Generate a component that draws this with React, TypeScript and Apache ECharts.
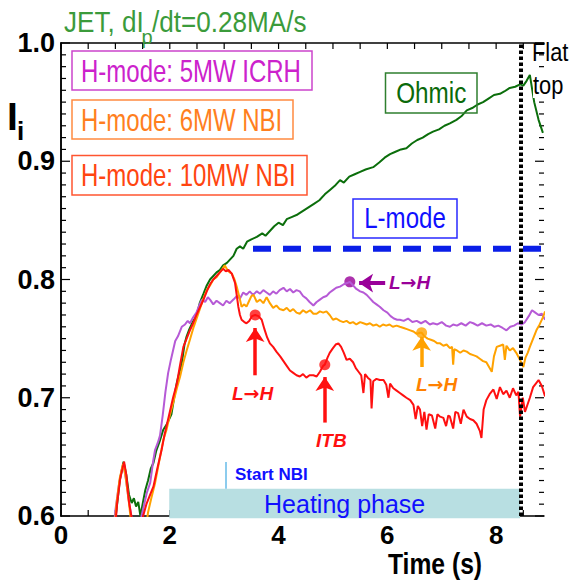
import React, { useEffect, useRef } from "react";
import * as echarts from "echarts";

const FONT = "'Liberation Sans', Arial, sans-serif";

// x tick positions and labels
const xTickValues = [0, 0.5, 1, 1.5, 2, 2.5, 3, 3.5, 4, 4.5, 5, 5.5, 6, 6.5, 7, 7.5, 8, 8.5];
const xLabelValues = [0, 2, 4, 6, 8];
// y tick positions (every 0.01)
const yTickValues = [
  0.6, 0.61, 0.62, 0.63, 0.64, 0.65, 0.66, 0.67, 0.68, 0.69,
  0.7, 0.71, 0.72, 0.73, 0.74, 0.75, 0.76, 0.77, 0.78, 0.79,
  0.8, 0.81, 0.82, 0.83, 0.84, 0.85, 0.86, 0.87, 0.88, 0.89,
  0.9, 0.91, 0.92, 0.93, 0.94, 0.95, 0.96, 0.97, 0.98, 0.99, 1.0,
];

// Ohmic (green)
const ohmic: [number, number][] = [
  [0.95, 0.58], [1.02, 0.605], [1.08, 0.63], [1.15, 0.646], [1.2, 0.635], [1.25, 0.618], [1.3, 0.611],
  [1.34, 0.615], [1.38, 0.608], [1.42, 0.612], [1.46, 0.6], [1.5, 0.61], [1.55, 0.622], [1.6, 0.63],
  [1.65, 0.64], [1.7, 0.645], [1.75, 0.655], [1.82, 0.664], [1.88, 0.673], [1.95, 0.678], [2.03, 0.686],
  [2.08, 0.7], [2.13, 0.713], [2.18, 0.722], [2.22, 0.729], [2.27, 0.745], [2.31, 0.752], [2.36, 0.758],
  [2.42, 0.764], [2.49, 0.769], [2.55, 0.78], [2.62, 0.788], [2.68, 0.795], [2.74, 0.8], [2.8, 0.803],
  [2.86, 0.806], [2.92, 0.808], [2.98, 0.812], [3.05, 0.814], [3.11, 0.817], [3.17, 0.82], [3.23, 0.826],
  [3.29, 0.828], [3.35, 0.826], [3.42, 0.832], [3.5, 0.834], [3.6, 0.836], [3.7, 0.839], [3.76, 0.837],
  [3.84, 0.841], [3.92, 0.845], [4.0, 0.848], [4.08, 0.846], [4.15, 0.851], [4.25, 0.853], [4.35, 0.855],
  [4.45, 0.858], [4.55, 0.861], [4.65, 0.864], [4.75, 0.867], [4.85, 0.872], [4.95, 0.876], [5.05, 0.88],
  [5.13, 0.884], [5.2, 0.882], [5.3, 0.887], [5.4, 0.889], [5.5, 0.891], [5.6, 0.893], [5.74, 0.895],
  [5.85, 0.899], [5.95, 0.903], [6.05, 0.906], [6.15, 0.908], [6.25, 0.91], [6.35, 0.911], [6.45, 0.915],
  [6.55, 0.918], [6.65, 0.92], [6.75, 0.923], [6.84, 0.925], [6.95, 0.927], [7.05, 0.93], [7.15, 0.932],
  [7.27, 0.935], [7.36, 0.938], [7.46, 0.943], [7.56, 0.945], [7.66, 0.948], [7.76, 0.95], [7.86, 0.953],
  [7.96, 0.956], [8.07, 0.957], [8.15, 0.959], [8.25, 0.962], [8.35, 0.963], [8.44, 0.965], [8.5, 0.964],
  [8.56, 0.968], [8.62, 0.973], [8.7, 0.95], [8.78, 0.935], [8.86, 0.924],
];

// H-mode 5MW ICRH (purple)
const icrh: [number, number][] = [
  [0.95, 0.58], [1.0, 0.605], [1.06, 0.625], [1.12, 0.64], [1.15, 0.643], [1.19, 0.632], [1.24, 0.615],
  [1.3, 0.598], [1.35, 0.585], [1.45, 0.585], [1.48, 0.6], [1.53, 0.61], [1.58, 0.62], [1.64, 0.628],
  [1.69, 0.645], [1.73, 0.656], [1.78, 0.662], [1.82, 0.668], [1.87, 0.685], [1.92, 0.705], [1.97, 0.721],
  [2.02, 0.732], [2.06, 0.74], [2.1, 0.748], [2.15, 0.752], [2.22, 0.76], [2.28, 0.762], [2.33, 0.765],
  [2.37, 0.763], [2.43, 0.768], [2.49, 0.772], [2.54, 0.778], [2.59, 0.783], [2.65, 0.781], [2.7, 0.785],
  [2.74, 0.783], [2.8, 0.779], [2.86, 0.782], [2.92, 0.78], [2.98, 0.778], [3.04, 0.782], [3.1, 0.78],
  [3.17, 0.783], [3.23, 0.786], [3.29, 0.784], [3.35, 0.789], [3.41, 0.787], [3.47, 0.79], [3.53, 0.787],
  [3.6, 0.79], [3.66, 0.788], [3.72, 0.791], [3.78, 0.789], [3.84, 0.787], [3.9, 0.79], [3.96, 0.788],
  [4.02, 0.791], [4.09, 0.793], [4.15, 0.79], [4.21, 0.792], [4.27, 0.789], [4.33, 0.791], [4.39, 0.79],
  [4.45, 0.786], [4.51, 0.784], [4.57, 0.781], [4.64, 0.778], [4.7, 0.781], [4.76, 0.783], [4.82, 0.785],
  [4.88, 0.786], [4.94, 0.789], [5.0, 0.791], [5.06, 0.793], [5.13, 0.794], [5.2, 0.796], [5.26, 0.797],
  [5.31, 0.798], [5.37, 0.795], [5.43, 0.792], [5.5, 0.79], [5.56, 0.789], [5.62, 0.787], [5.68, 0.784],
  [5.74, 0.781], [5.8, 0.779], [5.86, 0.777], [5.93, 0.774], [6.0, 0.772], [6.06, 0.769], [6.12, 0.767],
  [6.18, 0.766], [6.23, 0.766], [6.3, 0.765], [6.38, 0.767], [6.46, 0.764], [6.54, 0.765], [6.62, 0.763],
  [6.7, 0.765], [6.78, 0.762], [6.84, 0.763], [6.92, 0.762], [7.0, 0.764], [7.08, 0.761], [7.15, 0.76],
  [7.21, 0.762], [7.28, 0.761], [7.36, 0.763], [7.44, 0.761], [7.52, 0.764], [7.58, 0.763], [7.66, 0.761],
  [7.74, 0.763], [7.82, 0.761], [7.9, 0.762], [7.97, 0.76], [8.04, 0.761], [8.12, 0.759], [8.19, 0.757],
  [8.26, 0.76], [8.33, 0.761], [8.4, 0.763], [8.47, 0.762], [8.53, 0.764], [8.6, 0.769], [8.66, 0.774],
  [8.72, 0.772], [8.78, 0.77], [8.84, 0.771], [8.9, 0.766],
];

// H-mode 6MW NBI (orange)
const nbi6: [number, number][] = [
  [0.97, 0.58], [1.02, 0.61], [1.08, 0.632], [1.14, 0.644], [1.18, 0.636], [1.24, 0.615], [1.3, 0.59],
  [1.4, 0.58], [1.55, 0.585], [1.6, 0.603], [1.66, 0.615], [1.73, 0.628], [1.8, 0.645], [1.88, 0.664],
  [1.94, 0.673], [2.0, 0.685], [2.07, 0.697], [2.13, 0.708], [2.19, 0.718], [2.25, 0.73], [2.31, 0.74],
  [2.37, 0.749], [2.44, 0.76], [2.5, 0.768], [2.56, 0.776], [2.62, 0.784], [2.68, 0.791], [2.74, 0.795],
  [2.8, 0.8], [2.86, 0.802], [2.92, 0.806], [2.97, 0.809], [3.01, 0.812], [3.06, 0.808], [3.1, 0.806],
  [3.14, 0.805], [3.19, 0.8], [3.23, 0.794], [3.28, 0.785], [3.32, 0.777], [3.37, 0.779], [3.41, 0.777],
  [3.46, 0.782], [3.5, 0.786], [3.54, 0.787], [3.6, 0.781], [3.66, 0.783], [3.72, 0.78], [3.78, 0.785],
  [3.84, 0.78], [3.9, 0.776], [3.96, 0.778], [4.02, 0.775], [4.09, 0.774], [4.15, 0.776], [4.21, 0.773],
  [4.27, 0.775], [4.33, 0.772], [4.39, 0.771], [4.45, 0.774], [4.51, 0.772], [4.58, 0.774], [4.64, 0.771],
  [4.7, 0.771], [4.76, 0.773], [4.82, 0.772], [4.88, 0.773], [4.94, 0.77], [5.0, 0.766], [5.06, 0.767],
  [5.13, 0.765], [5.19, 0.764], [5.25, 0.765], [5.31, 0.763], [5.37, 0.764], [5.43, 0.762], [5.5, 0.764],
  [5.56, 0.763], [5.62, 0.762], [5.68, 0.763], [5.74, 0.761], [5.8, 0.762], [5.86, 0.76], [5.92, 0.762],
  [5.98, 0.761], [6.04, 0.762], [6.1, 0.76], [6.17, 0.761], [6.23, 0.76], [6.3, 0.759], [6.36, 0.758],
  [6.42, 0.757], [6.48, 0.756], [6.54, 0.754], [6.6, 0.755], [6.63, 0.755], [6.68, 0.752], [6.74, 0.75],
  [6.8, 0.749], [6.86, 0.748], [6.92, 0.746], [6.97, 0.746], [7.03, 0.744], [7.09, 0.745], [7.15, 0.742],
  [7.19, 0.743], [7.21, 0.728], [7.23, 0.741], [7.28, 0.74], [7.34, 0.738], [7.4, 0.74], [7.46, 0.739],
  [7.52, 0.737], [7.58, 0.736], [7.64, 0.735], [7.7, 0.733], [7.76, 0.731], [7.82, 0.73], [7.87, 0.726],
  [7.92, 0.722], [7.96, 0.735], [8.01, 0.743], [8.07, 0.744], [8.13, 0.745], [8.16, 0.732], [8.19, 0.744],
  [8.25, 0.74], [8.31, 0.742], [8.37, 0.738], [8.44, 0.732], [8.5, 0.726], [8.54, 0.734], [8.58, 0.738],
  [8.62, 0.743], [8.68, 0.75], [8.74, 0.757], [8.8, 0.762], [8.86, 0.768], [8.9, 0.773],
];

// H-mode 10MW NBI (red)
const nbi10: [number, number][] = [
  [0.98, 0.58], [1.03, 0.61], [1.09, 0.632], [1.16, 0.646], [1.2, 0.635], [1.25, 0.612], [1.3, 0.598],
  [1.35, 0.585], [1.48, 0.585], [1.51, 0.6], [1.57, 0.61], [1.63, 0.617], [1.7, 0.625], [1.77, 0.64],
  [1.85, 0.656], [1.9, 0.668], [1.94, 0.676], [2.0, 0.688], [2.06, 0.7], [2.13, 0.712], [2.19, 0.728],
  [2.25, 0.743], [2.31, 0.75], [2.37, 0.757], [2.43, 0.763], [2.49, 0.77], [2.55, 0.776], [2.62, 0.783],
  [2.68, 0.79], [2.74, 0.796], [2.8, 0.8], [2.86, 0.803], [2.92, 0.806], [2.98, 0.809], [3.03, 0.807],
  [3.08, 0.808], [3.14, 0.805], [3.2, 0.797], [3.23, 0.787], [3.26, 0.777], [3.29, 0.77], [3.32, 0.766],
  [3.37, 0.764], [3.41, 0.763], [3.46, 0.765], [3.51, 0.769], [3.57, 0.77], [3.63, 0.769], [3.69, 0.766],
  [3.74, 0.758], [3.79, 0.751], [3.84, 0.746], [3.9, 0.743], [3.96, 0.739], [4.03, 0.735], [4.09, 0.731],
  [4.15, 0.727], [4.21, 0.723], [4.27, 0.721], [4.33, 0.719], [4.39, 0.718], [4.45, 0.72], [4.51, 0.717],
  [4.57, 0.719], [4.64, 0.719], [4.7, 0.718], [4.76, 0.722], [4.82, 0.727], [4.85, 0.728], [4.9, 0.734],
  [4.94, 0.738], [5.0, 0.742], [5.05, 0.745], [5.1, 0.746], [5.15, 0.743], [5.2, 0.738], [5.25, 0.732],
  [5.31, 0.733], [5.37, 0.73], [5.42, 0.725], [5.47, 0.722], [5.52, 0.719], [5.56, 0.704], [5.59, 0.72],
  [5.64, 0.717], [5.69, 0.715], [5.71, 0.691], [5.74, 0.714], [5.8, 0.716], [5.86, 0.715], [5.93, 0.715],
  [5.98, 0.711], [6.02, 0.7], [6.05, 0.712], [6.11, 0.708], [6.17, 0.706], [6.23, 0.704], [6.29, 0.702],
  [6.35, 0.7], [6.42, 0.698], [6.48, 0.694], [6.52, 0.682], [6.56, 0.693], [6.6, 0.69], [6.64, 0.676],
  [6.68, 0.688], [6.72, 0.673], [6.76, 0.686], [6.82, 0.685], [6.88, 0.674], [6.92, 0.686], [6.97, 0.684],
  [7.03, 0.683], [7.08, 0.676], [7.12, 0.685], [7.15, 0.684], [7.21, 0.674], [7.25, 0.688], [7.3, 0.687],
  [7.35, 0.678], [7.4, 0.69], [7.46, 0.684], [7.52, 0.682], [7.58, 0.681], [7.64, 0.678], [7.7, 0.672],
  [7.73, 0.666], [7.77, 0.69], [7.82, 0.698], [7.88, 0.703], [7.95, 0.707], [8.01, 0.699], [8.07, 0.709],
  [8.13, 0.703], [8.19, 0.706], [8.25, 0.7], [8.31, 0.708], [8.37, 0.702], [8.41, 0.705], [8.44, 0.684],
  [8.49, 0.7], [8.53, 0.688], [8.56, 0.692], [8.62, 0.7], [8.68, 0.709], [8.73, 0.712], [8.78, 0.715],
  [8.84, 0.71], [8.9, 0.701],
];

// L-mode level (blue dashed)
const lModeLevel: [number, number][] = [[3.53, 0.826], [8.88, 0.826]];

// Transition markers
const redMarkers: [number, number][] = [[3.57, 0.77], [4.85, 0.728]];
const purpleMarkers: [number, number][] = [[5.31, 0.798]];
const orangeMarkers: [number, number][] = [[6.63, 0.755]];

// Arrows: [x1, y1, x2, y2] (head at x2, y2)
const redArrows: [number, number, number, number][] = [
  [3.57, 0.719, 3.57, 0.759],
  [4.85, 0.679, 4.85, 0.7175],
];
const orangeArrows: [number, number, number, number][] = [[6.63, 0.726, 6.63, 0.7516]];
const purpleArrows: [number, number, number, number][] = [[5.96, 0.797, 5.48, 0.797]];

const flatTopTime = 8.46;
const startNBI: [number, number, number, number] = [3.03, 0.6457, 3.03, 0.623];
// heating phase: [start, end, bottom, top]
const heatingPhase: [number, number, number, number][] = [[1.99, 8.44, 0.598, 0.623]];

const X_MIN = 0;
const X_MAX = 8.88;
const Y_MIN = 0.6;
const Y_MAX = 1.0;

function arrowLines(arr: [number, number, number, number][]) {
  return arr.map((a) => [{ coord: [a[0], a[1]] }, { coord: [a[2], a[3]] }]);
}

function txt(
  text: string,
  x: number,
  y: number,
  size: number,
  color: string,
  extra: any = {}
) {
  const { scaleX, align, weight, italic, bg, rich } = extra;
  return {
    type: "text",
    x,
    y,
    scaleX: scaleX ?? 1,
    z: 100,
    silent: true,
    style: {
      text,
      fontSize: size,
      fontFamily: FONT,
      fontWeight: weight ?? "normal",
      fontStyle: italic ? "italic" : "normal",
      fill: color,
      align: align ?? "left",
      textAlign: align ?? "left",
      verticalAlign: "middle",
      textVerticalAlign: "middle",
      backgroundColor: bg,
      rich,
    },
  };
}

function transitionLabel(x: number, y: number, color: string) {
  return txt("{a|L}{b|\u2192}{a|H}", x, y, 19, color, {
    weight: "bold",
    italic: true,
    rich: {
      a: { fontSize: 19, fontFamily: FONT, fontWeight: "bold", fontStyle: "italic", fill: color, color },
      b: { fontSize: 19, fontFamily: "'DejaVu Sans', sans-serif", fontWeight: "bold", fill: color, color },
    },
  });
}

function box(x: number, y: number, w: number, h: number, color: string) {
  return {
    type: "rect",
    z: 99,
    silent: true,
    shape: { x, y, width: w, height: h },
    style: { fill: "none", stroke: color, lineWidth: 1.5 },
  };
}

export default function App() {
  const ref = useRef<HTMLDivElement>(null);
  useEffect(() => {
    const chart = echarts.init(ref.current!, null, { renderer: "svg" });
    const axisLineStyle = { color: "#000", width: 1.5 };
    const tickStyle = { stroke: "#000", lineWidth: 1.2 };
    const option: any = {
      animation: false,
      backgroundColor: "#fff",
      grid: { left: 61, right: 25, top: 43, bottom: 64, containLabel: false },
      xAxis: [
        {
          type: "value",
          min: X_MIN,
          max: X_MAX,
          position: "bottom",
          axisLine: { show: true, lineStyle: axisLineStyle },
          axisTick: { show: false },
          axisLabel: {
            customValues: xLabelValues,
            fontSize: 26,
            fontWeight: "bold",
            color: "#000",
            fontFamily: FONT,
            margin: 6,
          },
          splitLine: { show: false },
        },
        {
          type: "value",
          min: X_MIN,
          max: X_MAX,
          position: "top",
          axisLine: { show: true, lineStyle: axisLineStyle },
          axisTick: { show: false },
          axisLabel: { show: false },
          splitLine: { show: false },
        },
      ],
      yAxis: [
        {
          type: "value",
          min: Y_MIN,
          max: Y_MAX,
          interval: 0.1,
          position: "left",
          axisLine: { show: true, lineStyle: axisLineStyle },
          axisTick: { show: false },
          axisLabel: {
            formatter: (v: number) => v.toFixed(1),
            fontSize: 27,
            fontWeight: "bold",
            color: "#000",
            fontFamily: FONT,
            margin: 6,
          },
          splitLine: { show: false },
        },
        {
          type: "value",
          min: Y_MIN,
          max: Y_MAX,
          interval: 0.1,
          position: "right",
          axisLine: { show: true, lineStyle: axisLineStyle },
          axisTick: { show: false },
          axisLabel: { show: false },
          splitLine: { show: false },
        },
      ],
      series: [
        {
          type: "custom",
          name: "xTicks",
          clip: false,
          silent: true,
          z: 3,
          data: xTickValues.map((v) => [v, Y_MIN]),
          encode: { x: 0, y: 1 },
          renderItem: (params: any, api: any) => {
            const b = api.coord([api.value(0), Y_MIN]);
            const t = api.coord([api.value(0), Y_MAX]);
            return {
              type: "group",
              children: [
                { type: "line", shape: { x1: b[0], y1: b[1], x2: b[0], y2: b[1] - 6 }, style: tickStyle },
                { type: "line", shape: { x1: t[0], y1: t[1], x2: t[0], y2: t[1] + 6 }, style: tickStyle },
              ],
            };
          },
        },
        {
          type: "custom",
          name: "yTicks",
          clip: false,
          silent: true,
          z: 3,
          data: yTickValues.map((v) => [X_MIN, v]),
          encode: { x: 0, y: 1 },
          renderItem: (params: any, api: any) => {
            const v = api.value(1);
            const major = Math.abs(v * 10 - Math.round(v * 10)) < 1e-6;
            const len = major ? 9 : 5;
            const l = api.coord([X_MIN, v]);
            const r = api.coord([X_MAX, v]);
            return {
              type: "group",
              children: [
                { type: "line", shape: { x1: l[0], y1: l[1], x2: l[0] + len, y2: l[1] }, style: tickStyle },
                { type: "line", shape: { x1: r[0], y1: r[1], x2: r[0] - len, y2: r[1] }, style: tickStyle },
              ],
            };
          },
        },
        {
          type: "custom",
          name: "Heating phase",
          clip: false,
          silent: true,
          z: 4,
          data: heatingPhase,
          encode: { x: [0, 1], y: [2, 3] },
          renderItem: (params: any, api: any) => {
            const p1 = api.coord([api.value(0), api.value(3)]);
            const p2 = api.coord([api.value(1), api.value(2)]);
            return {
              type: "group",
              children: [
                {
                  type: "rect",
                  shape: { x: p1[0], y: p1[1], width: p2[0] - p1[0], height: p2[1] - p1[1] },
                  style: { fill: "#b8dfe2" },
                },
                {
                  type: "text",
                  x: (p1[0] + p2[0]) / 2,
                  y: (p1[1] + p2[1]) / 2,
                  style: {
                    text: "Heating phase",
                    fontSize: 25,
                    fontFamily: FONT,
                    fill: "#1010ff",
                    align: "center",
                    verticalAlign: "middle",
                    textAlign: "center",
                    textVerticalAlign: "middle",
                  },
                },
              ],
            };
          },
        },
        {
          type: "line",
          name: "Ohmic",
          data: ohmic,
          showSymbol: false,
          symbol: "none",
          lineStyle: { color: "#0b6e0b", width: 2 },
          silent: true,
        },
        {
          type: "line",
          name: "H-mode: 5MW ICRH",
          data: icrh,
          showSymbol: false,
          symbol: "none",
          lineStyle: { color: "#b65ad6", width: 2 },
          silent: true,
          markLine: {
            silent: true,
            symbol: ["none", "arrow"],
            symbolSize: 14,
            label: { show: false },
            lineStyle: { color: "#990099", width: 4, type: "solid" },
            data: arrowLines(purpleArrows),
          },
        },
        {
          type: "line",
          name: "H-mode: 6MW NBI",
          data: nbi6,
          showSymbol: false,
          symbol: "none",
          lineStyle: { color: "#ffa200", width: 2 },
          silent: true,
          markLine: {
            silent: true,
            symbol: ["none", "arrow"],
            symbolSize: 14,
            label: { show: false },
            lineStyle: { color: "#ffa200", width: 3.5, type: "solid" },
            data: arrowLines(orangeArrows),
          },
        },
        {
          type: "line",
          name: "H-mode: 10MW NBI",
          data: nbi10,
          showSymbol: false,
          symbol: "none",
          lineStyle: { color: "#ff1010", width: 2 },
          silent: true,
          markLine: {
            silent: true,
            symbol: ["none", "arrow"],
            symbolSize: 14,
            label: { show: false },
            lineStyle: { color: "#ff1010", width: 3.5, type: "solid" },
            data: arrowLines(redArrows),
          },
        },
        {
          type: "line",
          name: "L-mode",
          data: lModeLevel,
          showSymbol: false,
          symbol: "none",
          lineStyle: { color: "#0a1ee8", width: 6, type: [18, 12] },
          silent: true,
          markLine: {
            silent: true,
            symbol: ["none", "none"],
            label: { show: false },
            lineStyle: { color: "#66bbe8", width: 1.5, type: "solid" },
            data: arrowLines([startNBI]),
          },
        },
        {
          type: "scatter",
          data: redMarkers,
          symbolSize: 11,
          itemStyle: { color: "#ff1010" },
          silent: true,
        },
        {
          type: "scatter",
          data: purpleMarkers,
          symbolSize: 11,
          itemStyle: { color: "#990099" },
          silent: true,
        },
        {
          type: "scatter",
          data: orangeMarkers,
          symbolSize: 11,
          itemStyle: { color: "#ffa200" },
          silent: true,
          markLine: {
            silent: true,
            symbol: ["none", "none"],
            label: { show: false },
            lineStyle: { color: "#000", width: 4, type: [3.5, 2.5] },
            data: [{ xAxis: flatTopTime }],
          },
        },
      ],
      graphic: [
        // title
        txt("JET, dI", 64, 22, 29, "#3b9b3b", { scaleX: 0.9 }),
        txt("p", 141.5, 37, 20, "#3b9b3b"),
        txt("/dt=0.28MA/s", 152, 22, 29, "#3b9b3b", { scaleX: 0.9 }),
        // y axis name
        txt("I", 7, 116, 39, "#000", { weight: "bold" }),
        txt("i", 17, 131, 26, "#000", { weight: "bold" }),
        // x axis name
        txt("Time (s)", 388, 564, 29, "#000", { weight: "bold", scaleX: 0.85 }),
        // legend boxes
        box(72, 51, 240, 39, "#cc44cc"),
        txt("H-mode: 5MW ICRH", 81, 70.5, 32, "#cc22cc", { scaleX: 0.75 }),
        box(72, 100, 221, 39, "#ff8a40"),
        txt("H-mode: 6MW NBI", 81, 119.5, 32, "#ff7f1e", { scaleX: 0.75 }),
        box(72, 155.5, 235, 39.5, "#ff5530"),
        txt("H-mode: 10MW NBI", 81, 175, 32, "#ff4510", { scaleX: 0.75 }),
        // Ohmic
        box(385.5, 73, 91.5, 40, "#2f7f2f"),
        txt("Ohmic", 431.3, 93, 30, "#0a6a0a", { scaleX: 0.81, align: "center" }),
        // L-mode
        box(353, 199, 104, 39, "#2a2aff"),
        txt("L-mode", 405, 218.5, 29, "#1010ff", { scaleX: 0.83, align: "center" }),
        // Flat top
        txt("Flat", 532, 52, 26, "#000", { scaleX: 0.84 }),
        txt("top", 533, 85, 26, "#000", { scaleX: 0.84, bg: "#fff" }),
        // Start NBI
        txt("Start NBI", 235, 474, 17, "#1010ff", { weight: "bold" }),
        // transition labels
        transitionLabel(389, 282, "#990099"),
        transitionLabel(416, 384, "#ff8000"),
        transitionLabel(232, 393, "#ff1010"),
        txt("ITB", 316, 440, 19, "#ff1010", { weight: "bold", italic: true }),
      ],
    };
    chart.setOption(option);
    return () => chart.dispose();
  }, []);
  return (
    <div
      ref={ref}
      style={{ position: "absolute", left: 0, top: 0, width: 569, height: 580 }}
    />
  );
}
